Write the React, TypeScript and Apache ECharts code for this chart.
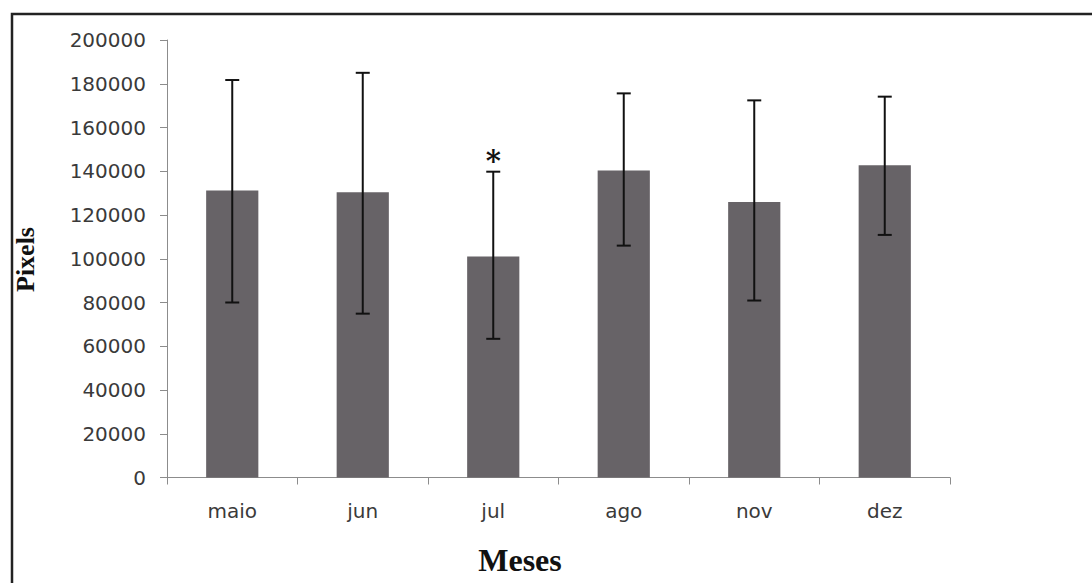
import React, { useEffect, useRef } from "react";
import * as echarts from "echarts";

const categories = ["maio", "jun", "jul", "ago", "nov", "dez"];
const meanValues = [131200, 130400, 101000, 140300, 126000, 142700];
const errLow = [80000, 74900, 63400, 106000, 80900, 110900];
const errHigh = [181700, 185000, 139800, 175600, 172400, 174100];
const significant = [false, false, true, false, false, false];
const yTicks = { min: 0, max: 200000, interval: 20000 };

export default function App() {
  const ref = useRef<HTMLDivElement>(null);
  useEffect(() => {
    if (!ref.current) return;
    const chart = echarts.init(ref.current, null, { renderer: "svg" });
    const errData = categories.map((_, i) => [i, errLow[i], errHigh[i], significant[i] ? 1 : 0]);
    chart.setOption({
      animation: false,
      backgroundColor: "#ffffff",
      grid: { left: 167, right: 142, top: 40, bottom: 105.5, containLabel: false },
      xAxis: {
        type: "category",
        data: categories,
        axisLine: { lineStyle: { color: "#8c8c8c", width: 1 } },
        axisTick: { show: true, length: 7, lineStyle: { color: "#8c8c8c" } },
        axisLabel: { color: "#3a3a3a", fontFamily: "DejaVu Sans", fontSize: 20, margin: 23 },
      },
      yAxis: {
        type: "value",
        min: yTicks.min,
        max: yTicks.max,
        interval: yTicks.interval,
        splitLine: { show: false },
        axisLine: { show: true, lineStyle: { color: "#8c8c8c", width: 1 } },
        axisTick: { show: true, length: 7, lineStyle: { color: "#8c8c8c" } },
        axisLabel: {
          color: "#3a3a3a",
          fontFamily: "DejaVu Sans",
          fontSize: 20,
          margin: 21,
          formatter: (v: number) => String(v),
        },
      },
      series: [
        {
          type: "bar",
          data: meanValues,
          barWidth: "40%",
          itemStyle: { color: "#676367" },
        },
        {
          type: "custom",
          data: errData,
          z: 10,
          renderItem: (params: any, api: any) => {
            const idx = api.value(0);
            const lo = api.coord([idx, api.value(1)]);
            const hi = api.coord([idx, api.value(2)]);
            const half = 7;
            const style = { stroke: "#111111", lineWidth: 2 };
            const children: any[] = [
              { type: "line", shape: { x1: hi[0], y1: hi[1], x2: lo[0], y2: lo[1] }, style },
              { type: "line", shape: { x1: hi[0] - half, y1: hi[1], x2: hi[0] + half, y2: hi[1] }, style },
              { type: "line", shape: { x1: lo[0] - half, y1: lo[1], x2: lo[0] + half, y2: lo[1] }, style },
            ];
            if (api.value(3) === 1) {
              children.push({
                type: "text",
                x: hi[0],
                y: hi[1] - 11,
                style: {
                  text: "*",
                  fill: "#111111",
                  font: "bold 29px 'DejaVu Serif'",
                  align: "center",
                  verticalAlign: "middle",
                },
              });
            }
            return { type: "group", children };
          },
        },
      ],
      graphic: [
        {
          type: "rect",
          shape: { x: 12, y: 14, width: 1200, height: 700 },
          style: { fill: "none", stroke: "#222222", lineWidth: 2.5 },
          silent: true,
        },
        {
          type: "text",
          x: 520,
          y: 560,
          style: {
            text: "Meses",
            fill: "#111111",
            font: "bold 32px 'Liberation Serif'",
            align: "center",
            verticalAlign: "middle",
          },
        },
        {
          type: "text",
          x: 25,
          y: 259.5,
          rotation: Math.PI / 2,
          style: {
            text: "Pixels",
            fill: "#111111",
            font: "bold 26px 'Liberation Serif'",
            align: "center",
            verticalAlign: "middle",
          },
        },
      ],
    });
    return () => chart.dispose();
  }, []);
  return (
    <div
      ref={ref}
      style={{ position: "fixed", left: 0, top: 0, width: 1092, height: 583, background: "#fff" }}
    />
  );
}
